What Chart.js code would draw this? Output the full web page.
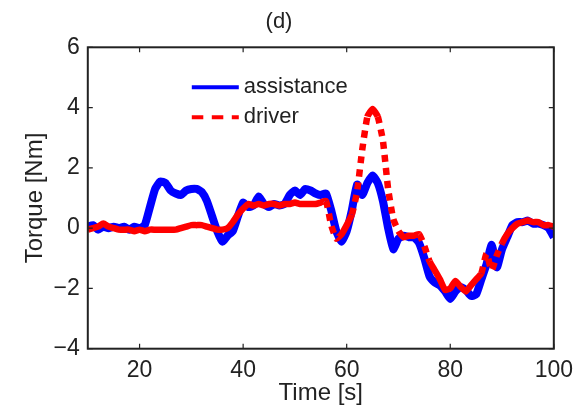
<!DOCTYPE html>
<html>
<head>
<meta charset="utf-8">
<script src="https://cdn.jsdelivr.net/npm/chart.js@4.4.1/dist/chart.umd.min.js"></script>
<style>
  body { margin: 0; background: #fff; }
  canvas { display: block; }
</style>
</head>
<body>
<canvas id="myChart" width="581" height="408"></canvas>
<script>
// sample times [s], one per second
const time = [
  10, 11, 12, 13, 14, 15, 16, 17, 18, 19,
  20, 21, 22, 23, 24, 25, 26, 27, 28, 29,
  30, 31, 32, 33, 34, 35, 36, 37, 38, 39,
  40, 41, 42, 43, 44, 45, 46, 47, 48, 49,
  50, 51, 52, 53, 54, 55, 56, 57, 58, 59,
  60, 61, 62, 63, 64, 65, 66, 67, 68, 69,
  70, 71, 72, 73, 74, 75, 76, 77, 78, 79,
  80, 81, 82, 83, 84, 85, 86, 87, 88, 89,
  90, 91, 92, 93, 94, 95, 96, 97, 98, 99,
  100
];

// assistance torque [Nm]
const assistance = [
  0.05, 0.1, -0.05, 0.05, 0.0, 0.05, 0.0, 0.05, -0.05, 0.05,
  0.0, 0.1, 0.7, 1.3, 1.55, 1.5, 1.25, 1.15, 1.1, 1.25,
  1.3, 1.3, 1.2, 0.9, 0.4, -0.1, -0.45, -0.25, -0.1, 0.4,
  0.85, 0.7, 0.75, 1.05, 0.8, 0.7, 0.8, 0.75, 0.8, 1.1,
  1.25, 1.1, 1.3, 1.25, 1.15, 1.1, 1.15, 0.6, -0.1, -0.45,
  -0.1, 0.6, 1.45, 1.1, 1.5, 1.75, 1.5, 0.9, 0.0, -0.7,
  -0.35, -0.25, -0.3, -0.3, -0.5, -1.0, -1.6, -1.8, -1.9, -2.1,
  -2.35, -2.1, -1.95, -2.05, -2.25, -2.2, -1.7, -1.2, -0.55, -1.3,
  -0.7, -0.3, 0.1, 0.2, 0.2, 0.25, 0.15, 0.15, 0.1, 0.0,
  -0.3
];

// driver torque [Nm]
const driver = [
  -0.05, 0.0, 0.05, 0.15, 0.05, 0.0, -0.05, -0.05, -0.05, -0.1,
  -0.05, -0.1, -0.05, -0.05, -0.05, -0.05, -0.05, -0.05, 0.0, 0.05,
  0.1, 0.1, 0.1, 0.05, 0.0, -0.05, -0.05, 0.0, 0.2, 0.45,
  0.65, 0.8, 0.75, 0.8, 0.75, 0.8, 0.8, 0.75, 0.8, 0.8,
  0.85, 0.8, 0.8, 0.8, 0.8, 0.85, 0.9, 0.1, -0.35, -0.2,
  0.1, 0.45, 1.2, 2.6, 3.7, 3.95, 3.7, 2.9, 1.3, 0.3,
  -0.1, -0.3, -0.25, -0.25, -0.2, -0.6, -1.1, -1.4, -1.7, -2.05,
  -2.0, -1.75, -1.95, -2.1, -1.9, -1.7, -1.5, -0.85, -1.4, -0.9,
  -0.5, -0.2, 0.0, 0.15, 0.2, 0.25, 0.2, 0.2, 0.1, 0.1,
  0.05
];

const xTicks = [20, 40, 60, 80, 100];
const yTicks = [-4, -2, 0, 2, 4, 6];

const seriesNames = ['assistance', 'driver'];
const seriesColors = ['#0000ff', '#ff0000'];

const FONT = '"Liberation Sans", Arial, Helvetica, sans-serif';
const INK = '#222';

const toPoints = values => values.map((v, i) => ({ x: time[i], y: v }));

// frame round the plot area with inward tick marks on all four sides
const boxAxes = {
  id: 'boxAxes',
  afterDatasetsDraw(chart) {
    const { ctx, chartArea: a, scales: { x, y } } = chart;
    ctx.save();
    ctx.strokeStyle = INK;
    ctx.lineWidth = 1.2;
    ctx.beginPath();
    xTicks.forEach(v => {
      const px = x.getPixelForValue(v);
      ctx.moveTo(px, a.bottom); ctx.lineTo(px, a.bottom - 5);
      ctx.moveTo(px, a.top); ctx.lineTo(px, a.top + 5);
    });
    yTicks.forEach(v => {
      const py = y.getPixelForValue(v);
      ctx.moveTo(a.left, py); ctx.lineTo(a.left + 5, py);
      ctx.moveTo(a.right, py); ctx.lineTo(a.right - 5, py);
    });
    ctx.stroke();
    ctx.lineWidth = 2;
    ctx.strokeRect(a.left, a.top, a.width, a.height);
    ctx.restore();
  }
};

// legend without a box, inside the plot area
const innerLegend = {
  id: 'innerLegend',
  afterDraw(chart) {
    const { ctx, chartArea: a } = chart;
    const x0 = a.left + 104;
    const x1 = a.left + 151;
    ctx.save();
    ctx.font = '22px ' + FONT;
    ctx.textBaseline = 'middle';
    ctx.fillStyle = INK;
    seriesNames.forEach((name, i) => {
      const yy = a.top + 40 + i * 30;
      ctx.strokeStyle = seriesColors[i];
      ctx.lineWidth = 4;
      ctx.setLineDash(i === 1 ? [11.5, 8.5] : []);
      ctx.beginPath();
      ctx.moveTo(x0, yy);
      ctx.lineTo(x1, yy);
      ctx.stroke();
      ctx.fillText(name, x1 + 5, yy);
    });
    ctx.restore();
  }
};

const tickFont = { family: FONT, size: 23 };
const titleFont = { family: FONT, size: 24 };

const myChart = new Chart(document.getElementById('myChart'), {
  type: 'line',
  data: {
    datasets: [
      {
        label: seriesNames[0],
        data: toPoints(assistance),
        borderColor: seriesColors[0],
        borderWidth: 8,
        pointRadius: 0,
        tension: 0.15,
        order: 2
      },
      {
        label: seriesNames[1],
        data: toPoints(driver),
        borderColor: seriesColors[1],
        borderWidth: 6.5,
        pointRadius: 0,
        tension: 0.15,
        order: 1,
        // steep stretches show the dash pattern, flat ones look solid
        segment: {
          borderDash: ctx => Math.abs(ctx.p1.parsed.y - ctx.p0.parsed.y) > 0.35 ? [7, 6] : undefined
        }
      }
    ]
  },
  options: {
    responsive: false,
    animation: false,
    layout: { padding: { left: 0, right: 23, top: 0, bottom: 0 } },
    plugins: {
      legend: { display: false },
      tooltip: { enabled: false },
      title: {
        display: true,
        text: '(d)',
        color: INK,
        font: { family: FONT, size: 22, weight: 'normal' },
        padding: { top: 9, bottom: 11.9 }
      }
    },
    scales: {
      x: {
        type: 'linear',
        min: 10,
        max: 100,
        afterBuildTicks: s => { s.ticks = xTicks.map(v => ({ value: v })); },
        afterFit: s => { s.height = 59.3; },
        grid: { display: false, drawTicks: false },
        border: { display: false },
        ticks: { padding: 8, color: INK, font: tickFont, maxRotation: 0 },
        title: { display: true, text: 'Time [s]', color: INK, font: titleFont, padding: { top: 0, bottom: 0 } }
      },
      y: {
        min: -4,
        max: 6,
        afterBuildTicks: s => { s.ticks = yTicks.map(v => ({ value: v })); },
        afterFit: s => { s.width = 87.8; },
        grid: { display: false, drawTicks: false },
        border: { display: false },
        ticks: {
          padding: 8,
          color: INK,
          font: tickFont,
          callback: v => (v < 0 ? '\u2212' + Math.abs(v) : String(v))
        },
        title: { display: true, text: 'Torque [Nm]', color: INK, font: titleFont, padding: { top: 21, bottom: 0 } }
      }
    }
  },
  plugins: [boxAxes, innerLegend]
});
</script>
</body>
</html>
